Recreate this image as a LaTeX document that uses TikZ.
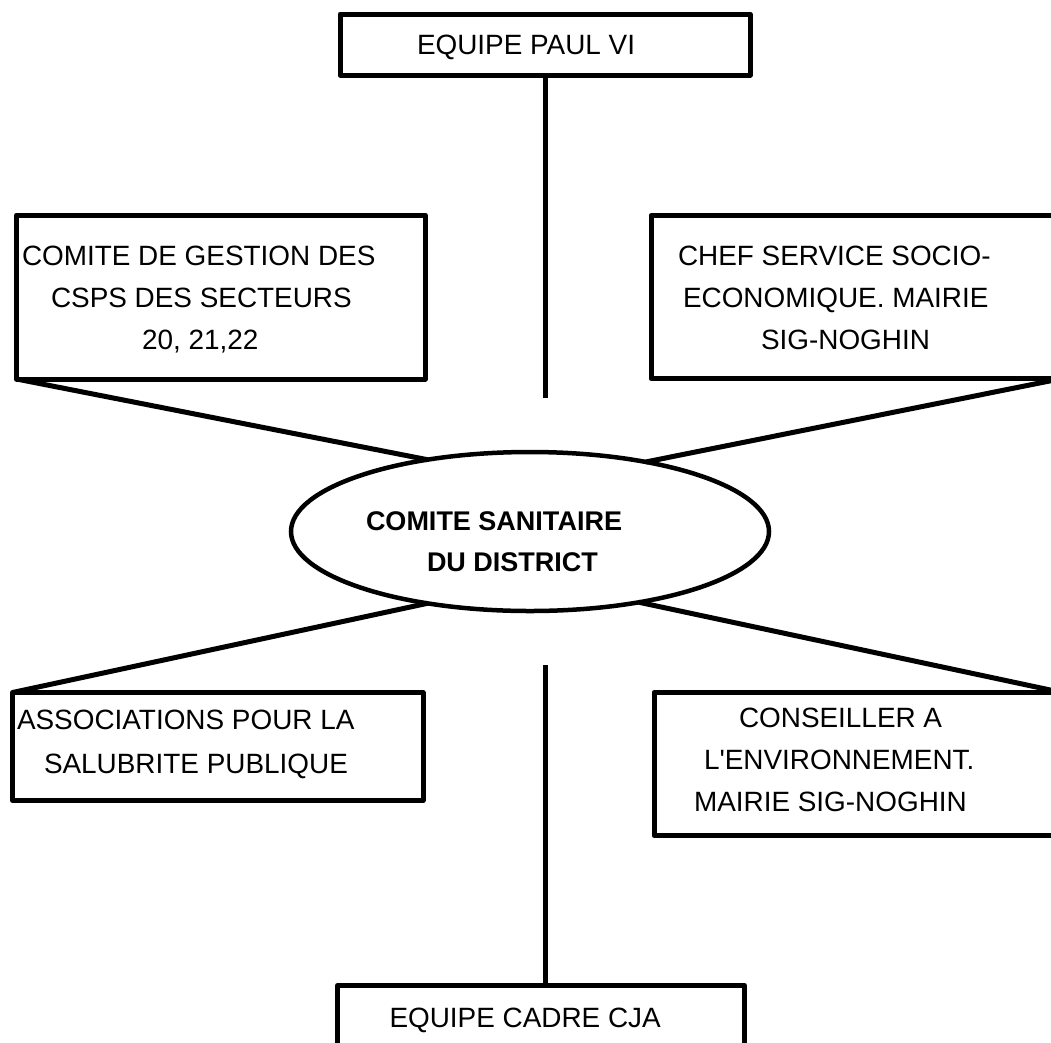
\documentclass[tikz,border=0pt]{standalone}
\usepackage{fontspec}
\setmainfont{Liberation Sans}[Ligatures=TeXOff]
\usetikzlibrary{shapes.geometric}
\begin{document}
\begin{tikzpicture}[x=1pt,y=-1pt,
  box/.style={draw, line width=5pt, inner sep=0pt, outer sep=0pt, line join=round},
  oval/.style={draw, ellipse, line width=4.5pt, inner sep=0pt, outer sep=0pt},
  link/.style={line width=5pt},
  lbl/.style={inner sep=0pt, outer sep=0pt, align=left, anchor=north west, font=\fontsize{27.9}{42}\selectfont},
]
\useasboundingbox (0,0) rectangle (1051,1042);
\clip (0,0) rectangle (1051,1042);
% boxes
\node[box, minimum width=410pt, minimum height=61pt] (paul) at (545,44.5) {};
\node[box, minimum width=408.5pt, minimum height=164pt] (gestion) at (220.75,297) {};
\node[box, minimum width=411pt, minimum height=163pt] (chef) at (856.5,297) {};
\node[oval, minimum width=478pt, minimum height=159pt] (dist) at (530,531.5) {};
\node[box, minimum width=410.5pt, minimum height=108pt] (assoc) at (217.75,746.5) {};
\node[box, minimum width=408pt, minimum height=143pt] (conseil) at (858,764) {};
\node[box, minimum width=407pt, minimum height=74.5pt] (cadre) at (541,1022.75) {};
% texts
\node[lbl] (paultxt) at (417,35) {EQUIPE PAUL VI};
\node[lbl] (gestiontxt) at (22,246.5) {COMITE DE GESTION DES\\\hspace*{29pt}CSPS DES SECTEURS\\\hspace*{120pt}20, 21,22};
\node[lbl] (cheftxt) at (678,246) {CHEF SERVICE SOCIO-\\\hspace*{5pt}ECONOMIQUE. MAIRIE\\\hspace*{83pt}SIG-NOGHIN};
\node[lbl, font=\fontsize{27}{41}\selectfont\bfseries] (disttxt) at (366,512) {COMITE SANITAIRE\\\hspace*{61pt}DU DISTRICT};
\node[lbl, font=\fontsize{27.9}{44}\selectfont] (assoctxt) at (17,710) {ASSOCIATIONS POUR LA\\\hspace*{27pt}SALUBRITE PUBLIQUE};
\node[lbl] (conseiltxt) at (694,708) {\hspace*{45pt}CONSEILLER A\\\hspace*{10pt}L'ENVIRONNEMENT.\\MAIRIE SIG-NOGHIN};
\node[lbl] (cadretxt) at (389.5,1008) {EQUIPE CADRE CJA};
% connectors
\draw[link] (gestion.south west) -- (dist.145.4);
\draw[link] (chef.south east) -- (dist.31.8);
\draw[link] (assoc.north west) -- (dist.215.2);
\draw[link] (conseil.north east) -- (dist.327.5);
\coordinate (topend) at (545.5,398);
\draw[link] (paul.south -| topend) -- (topend);
\coordinate (botend) at (545.5,665);
\draw[link] (botend) -- (botend |- cadre.north);
\end{tikzpicture}
\end{document}
